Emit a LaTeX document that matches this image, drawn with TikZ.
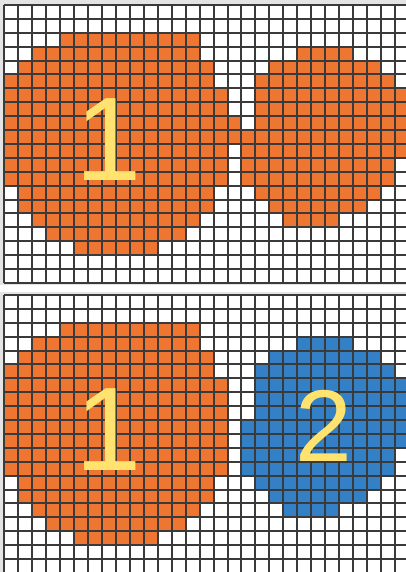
\documentclass[tikz,border=0pt]{standalone}
\usepackage{fontspec}
\setmainfont{Liberation Sans}
\definecolor{org}{HTML}{EE7631}
\definecolor{blu}{HTML}{3480C6}
\definecolor{ylw}{HTML}{FFE36E}
\definecolor{framec}{HTML}{E4E4E4}
\definecolor{gridc}{HTML}{3A3A3A}
\tikzset{
  gridline/.style={gridc, line width=1.6pt},
  digit/.style={ylw, inner sep=0pt},
}
\begin{document}
\begin{tikzpicture}[x=1pt,y=-1pt]
\def\cw{13.97}\def\ch{13.9}
\useasboundingbox (0,0) rectangle (406,572);
\fill[white] (0,0) rectangle (406,572);
\fill[framec] (0,0) rectangle (406,285);
\fill[framec] (0,292) rectangle (406,572);
\fill[white] (4,5) rectangle (406,283);
\fill[white] (4,295) rectangle (406,572);
% ---------- top panel ----------
\begin{scope}
\clip (3,4) rectangle (406,284);
\foreach \r/\a/\b in {2/4/13,3/2/13,4/1/14,5/0/14,6/0/15,7/0/15,8/0/16,9/0/16,10/0/15,11/0/15,12/0/15,13/1/14,14/1/14,15/2/13,16/3/12,17/5/10,
  3/21/24,4/19/26,5/18/27,6/18/29,7/18/29,8/18/29,9/17/29,10/17/29,11/17/27,12/17/27,13/18/26,14/19/25,15/20/23}
  \fill[org] ({round(4+\a*\cw)},{round(5+\r*\ch)}) rectangle ({round(4+(\b+1)*\cw)},{round(5+(\r+1)*\ch)});
\foreach \i in {0,...,29} \draw[gridline] ({round(4+\i*\cw)},5) -- ({round(4+\i*\cw)},283);
\foreach \j in {0,...,20} \draw[gridline] (4,{round(5+\j*\ch)}) -- (406,{round(5+\j*\ch)});
\end{scope}
\node[digit, font=\fontsize{119}{119}\selectfont, anchor=base west] (oneA) at (75,180) {1};
% ---------- bottom panel ----------
\begin{scope}
\clip (3,294) rectangle (406,572);
\foreach \r/\a/\b in {2/4/13,3/2/13,4/1/14,5/0/14,6/0/15,7/0/15,8/0/15,9/0/15,10/0/15,11/0/15,12/0/15,13/1/14,14/1/14,15/2/13,16/3/12,17/5/10}
  \fill[org] ({round(4+\a*\cw)},{round(295+\r*\ch)}) rectangle ({round(4+(\b+1)*\cw)},{round(295+(\r+1)*\ch)});
\foreach \r/\a/\b in {3/21/24,4/19/26,5/18/27,6/18/29,7/18/29,8/18/29,9/17/29,10/17/29,11/17/27,12/17/27,13/18/26,14/19/25,15/20/23}
  \fill[blu] ({round(4+\a*\cw)},{round(295+\r*\ch)}) rectangle ({round(4+(\b+1)*\cw)},{round(295+(\r+1)*\ch)});
\foreach \i in {0,...,29} \draw[gridline] ({round(4+\i*\cw)},295) -- ({round(4+\i*\cw)},572);
\foreach \j in {0,...,20} \draw[gridline] (4,{round(295+\j*\ch)}) -- (406,{round(295+\j*\ch)});
\end{scope}
\node[digit, font=\fontsize{119}{119}\selectfont, anchor=base west] (oneB) at (75,470) {1};
\node[digit, font=\fontsize{102}{102}\selectfont, anchor=base] (two) at (324,461) {2};
\end{tikzpicture}
\end{document}
